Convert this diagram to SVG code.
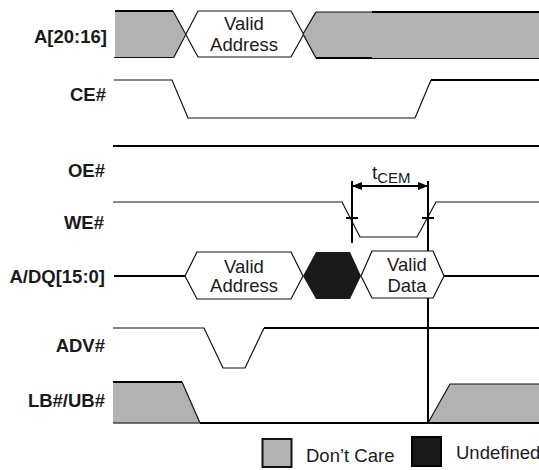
<svg xmlns="http://www.w3.org/2000/svg" width="539" height="470" viewBox="0 0 539 470">
<style>
text{font-family:"Liberation Sans",Arial,sans-serif;fill:#1a1a1a}
.l{font-size:18.500px;font-weight:bold;text-anchor:end}
.t{font-size:18.500px;text-anchor:middle}
.s{fill:none;stroke:#111;stroke-width:1.2}
.w{fill:#fff;stroke:#111;stroke-width:1.2}
.h{fill:none;stroke:#000;stroke-width:2}
.g{fill:#b2b2b2;stroke:none}
.k{fill:#1a1a1a}
</style>
<defs>
<marker id="a" viewBox="0 0 10 8" refX="10" refY="4" markerWidth="10" markerHeight="8" orient="auto-start-reverse" markerUnits="userSpaceOnUse"><path d="M0 0L10 4L0 8z" fill="#000"/></marker>
</defs>
<g id="labels">
<text class="l" x="107" y="43">A[20:16]</text>
<text class="l" x="106" y="101">CE#</text>
<text class="l" x="105" y="177">OE#</text>
<text class="l" x="104" y="229">WE#</text>
<text class="l" x="105" y="283">A/DQ[15:0]</text>
<text class="l" x="105" y="352">ADV#</text>
<text class="l" x="105" y="407">LB#/UB#</text>
</g>
<g id="signal-a">
<path class="g" d="M115 11H173L185 34L174 57H115z"/>
<path class="h" d="M115 11H173"/><path class="s" d="M173 11L198 57H291M174 57L198 11H291L316 57M114 57.500H174M291 57L316 12"/>
<path class="g" d="M303 34L316 12H539V58H316z"/>
<path class="s" d="M303 34L316 12M303 34L316 58M316 12H372"/>
<path class="h" d="M372 12H539M316 58H372"/><path class="s" d="M372 58.500H539"/>
<text class="t" x="244" y="30">Valid</text><text class="t" x="244" y="51">Address</text>
</g>
<g id="signal-ce"><path class="s" d="M114 80H172L188 118H415L431 80"/><path class="h" d="M431 80H539"/></g>
<g id="signal-oe"><path class="h" d="M113 146H539"/></g>
<g id="signal-we"><path class="s" d="M113 202H342L360 237H417L436 202H539"/></g>
<g id="signal-adv"><path class="s" d="M113 328H204L223 368H245L264 328"/><path class="h" d="M264 328H539"/></g>
<g id="signal-lb">
<path class="g" d="M113 382H182L200 423H113z"/>
<path class="g" d="M428 423L450 384H539V423z"/>
<path class="h" d="M113 382H182M200 423H539"/>
<path class="s" d="M182 382L200 423M428 423L450 384H539"/>
<path d="M113 423H200" stroke="#444" stroke-width="1.500" fill="none"/>
</g>
<g id="connectors">
<path class="h" d="M352 181V243M428 181V423"/>
<path d="M352 186H428" fill="none" stroke="#000" stroke-width="2" marker-start="url(#a)" marker-end="url(#a)"/>
<path class="h" d="M346 218H358M422 218H434"/>
<text x="372" y="179" font-size="19">t<tspan font-size="15" dy="4">CEM</tspan></text>
</g>
<g id="signal-adq">
<path class="h" d="M114 276H185M444 276H539"/>
<path class="w" d="M185 276L197 252H291L303 276L291 299H197z"/>
<path class="k" d="M303 276L316 252H350L361 276L350 299H316z"/>
<path class="w" d="M361 276L372 251H433L444 276L433 298H372z"/>
<text class="t" x="244" y="273">Valid</text><text class="t" x="244" y="292">Address</text>
<text class="t" x="407" y="271">Valid</text><text class="t" x="407" y="292">Data</text>
</g>
<g id="legend-dontcare"><rect x="262.500" y="439" width="29" height="28" fill="#b2b2b2" stroke="#111" stroke-width="2"/><text x="306" y="462" font-size="18.500">Don’t Care</text></g>
<g id="legend-undefined"><rect x="412" y="437" width="29" height="29" fill="#1a1a1a" stroke="#000" stroke-width="2"/><text x="456" y="459" font-size="18.500">Undefined</text></g>
</svg>
